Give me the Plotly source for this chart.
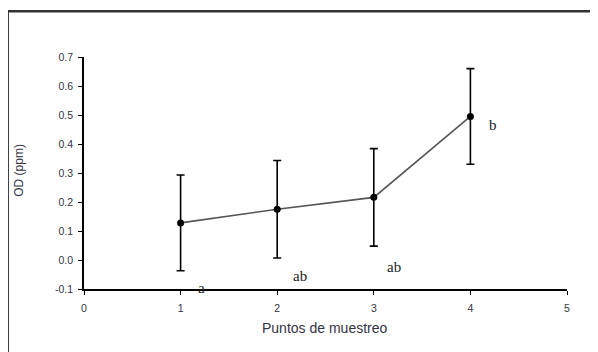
import plotly.graph_objects as go

puntos = [1, 2, 3, 4]
od_mean = [0.128, 0.175, 0.216, 0.495]
od_err = [0.165, 0.168, 0.168, 0.165]
letras = ["a", "ab", "ab", "b"]
letra_x = [1.22, 2.24, 3.21, 4.23]
letra_y = [-0.095, -0.055, -0.024, 0.467]

x_ticks = [0, 1, 2, 3, 4, 5]
y_ticks = [-0.1, 0.0, 0.1, 0.2, 0.3, 0.4, 0.5, 0.6, 0.7]

fig = go.Figure()
fig.add_trace(go.Scatter(
    x=puntos, y=od_mean, mode="lines+markers",
    line=dict(color="#555555", width=1.6),
    marker=dict(color="black", size=7),
    error_y=dict(type="data", array=od_err, visible=True,
                 color="black", thickness=1.6, width=4),
    showlegend=False,
))

for lx, ly, t in zip(letra_x, letra_y, letras):
    fig.add_annotation(x=lx, y=ly, text=t, showarrow=False, xanchor="center", yanchor="middle",
                       font=dict(family="Liberation Serif", size=15, color="#222222"))

fig.add_annotation(xref="paper", yref="paper", x=0.499, y=-0.168, text="Puntos de muestreo",
                   showarrow=False, xanchor="center", yanchor="middle",
                   font=dict(family="Liberation Sans", size=14, color="#333344"))
fig.add_annotation(xref="paper", yref="paper", x=-0.135, y=0.513, text="OD (ppm)", textangle=-90,
                   showarrow=False, xanchor="center", yanchor="middle",
                   font=dict(family="Liberation Sans", size=12, color="#333344"))

fig.add_shape(type="rect", xref="paper", yref="paper", x0=-0.158, x1=1.2, y0=-0.5, y1=1.197,
              line=dict(color="#333333", width=2.5))

tick_font = dict(family="Liberation Sans", size=10.5, color="#333344")
fig.update_layout(
    width=590, height=344,
    margin=dict(l=76, r=31, t=49, b=63),
    paper_bgcolor="white", plot_bgcolor="white",
    xaxis=dict(range=[0, 5], tickvals=x_ticks, ticktext=[str(v) for v in x_ticks],
               showgrid=False, zeroline=False, showline=True, linecolor="black", linewidth=1.6,
               ticks="outside", ticklen=4, tickwidth=1.4, tickcolor="black", tickfont=tick_font,
               ticklabelstandoff=5),
    yaxis=dict(range=[-0.1, 0.7], tickvals=y_ticks, ticktext=["-0.1"] + [f"{v:.1f}" for v in y_ticks[1:]],
               showgrid=False, zeroline=False, showline=True, linecolor="black", linewidth=1.6,
               ticks="outside", ticklen=4, tickwidth=1.4, tickcolor="black", tickfont=tick_font,
               ticklabelstandoff=3),
)

fig.write_html("out.html")
